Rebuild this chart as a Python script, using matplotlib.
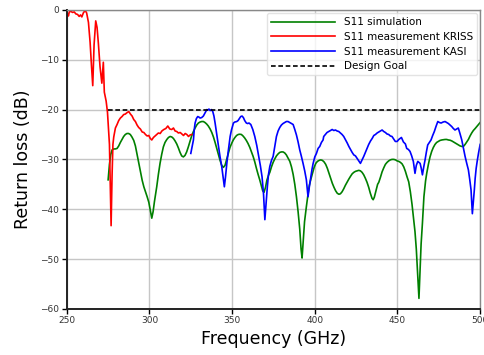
import matplotlib
matplotlib.use("Agg")
import matplotlib.pyplot as plt

kriss_f = [250.0, 250.5, 251.0, 251.5, 252.5, 253.5, 254.5, 255.5, 256.5, 257.5, 258.3, 259.1,
           260.0, 261.1, 262.0, 263.1, 264.1, 264.9, 265.7, 266.5, 267.5, 268.3, 269.1, 270.1,
           271.2, 272.1, 272.7, 273.8, 274.6, 275.8, 276.8, 277.4, 277.9, 278.4, 279.4, 280.4,
           281.4, 282.4, 283.4, 284.4, 285.4, 286.5, 287.5, 288.5, 289.5, 290.5, 291.5, 292.5,
           293.5, 294.5, 295.6, 296.6, 297.6, 298.6, 299.6, 300.5, 301.4, 302.4, 303.4, 304.4,
           305.4, 306.5, 307.5, 308.7, 309.9, 311.1, 312.3, 313.5, 314.5, 315.5, 316.5, 317.5,
           318.6, 319.6, 320.6, 321.6, 322.6, 323.6, 324.6, 325.6]
kriss_db = [-1.8, -0.8, -1.2, -0.4, -0.3, -0.5, -0.4, -0.8, -0.9, -1.3, -1.0, -1.4,
            -0.6, -0.1, -0.6, -2.5, -6.5, -11.0, -15.2, -7.0, -2.2, -3.5, -6.7, -11.4,
            -14.7, -10.5, -16.5, -18.3, -20.5, -27.0, -43.3, -33.0, -27.0, -25.5, -23.7, -23.0,
            -22.2, -21.7, -21.4, -21.0, -20.9, -20.6, -20.4, -20.9, -21.3, -22.0, -22.4, -23.1,
            -23.6, -23.9, -24.5, -24.6, -25.0, -25.3, -25.2, -25.8, -26.1, -25.6, -25.3, -25.0,
            -24.7, -24.8, -24.3, -24.0, -23.8, -23.3, -23.9, -24.0, -23.7, -24.3, -24.4, -24.7,
            -24.6, -24.9, -25.2, -24.8, -25.0, -25.4, -25.1, -25.0]

# S11 simulation
sim_f = [275.0, 275.8, 276.6, 277.4, 278.4, 279.4, 280.4, 281.4, 282.4, 283.4, 284.4, 285.4,
         286.4, 287.4, 288.4, 289.4, 290.5, 291.5, 292.5, 293.5, 294.5, 295.6, 296.6, 297.6,
         298.6, 299.6, 300.5, 301.4, 302.2, 303.0, 304.4, 305.4, 306.4, 307.4, 308.4, 309.4,
         310.5, 311.5, 312.5, 313.5, 314.5, 315.5, 316.5, 317.5, 318.5, 319.5, 320.5, 321.5,
         322.5, 323.5, 324.5, 325.5, 326.6, 327.6, 328.6, 329.6, 330.6, 331.6, 332.6, 333.6,
         334.6, 335.6, 336.7, 337.7, 338.7, 339.7, 340.7, 341.7, 342.7, 343.7, 344.7, 345.7,
         346.7, 347.7, 348.7, 349.7, 350.7, 351.7, 352.7, 353.7, 354.6, 355.6, 356.6, 357.6,
         358.6, 359.6, 360.7, 361.7, 362.7, 363.7, 364.7, 365.7, 366.7, 367.7, 368.5, 369.3,
         370.2, 371.0, 372.0, 372.8, 373.8, 374.8, 375.8, 376.8, 377.8, 378.8, 379.8, 380.8,
         381.8, 382.8, 383.8, 384.9, 385.9, 386.9, 387.9, 388.9, 389.9, 390.9, 391.7, 392.3,
         393.0, 393.8, 394.9, 395.9, 396.7, 397.6, 398.6, 399.6, 400.6, 401.6, 402.6, 403.6,
         404.6, 405.6, 406.6, 407.6, 408.6, 409.6, 410.6, 411.6, 412.6, 413.6, 414.6, 415.5,
         416.5, 417.5, 418.5, 419.5, 420.5, 421.6, 422.6, 423.6, 424.6, 425.6, 426.6, 427.6,
         428.6, 429.6, 430.6, 431.6, 432.6, 433.6, 434.6, 435.3, 436.0, 437.0, 438.0, 438.7,
         439.7, 440.7, 441.7, 442.7, 443.7, 444.7, 445.7, 446.7, 447.8, 448.8, 449.8, 450.8,
         451.8, 452.8, 453.8, 454.8, 455.8, 456.8, 457.8, 458.8, 459.8, 460.6, 461.4, 462.2,
         463.0, 463.6, 464.3, 465.1, 466.0, 467.0, 467.7, 468.7, 469.7, 470.7, 471.7, 472.7,
         473.7, 474.7, 475.7, 476.8, 477.8, 478.8, 479.8, 480.8, 481.8, 482.9, 483.9, 484.9,
         485.9, 486.9, 487.9, 488.9, 489.9, 490.9, 491.9, 492.9, 493.9, 494.9, 495.9, 497.0,
         498.0, 499.0, 500.0]
sim_db = [-34.1, -31.0, -29.0, -28.1, -27.9, -27.9, -27.8, -27.3, -26.6, -26.0, -25.4, -25.0,
          -24.8, -24.8, -25.0, -25.5, -26.2, -27.3, -29.0, -30.8, -32.5, -34.2, -35.5, -36.5,
          -37.5, -38.6, -40.2, -41.8, -40.5, -38.5, -35.5, -33.0, -30.8, -29.0, -27.5, -26.6,
          -26.0, -25.6, -25.4, -25.5, -25.8, -26.3, -26.9, -27.7, -28.6, -29.3, -29.5, -29.2,
          -28.5, -27.5, -26.4, -25.3, -24.4, -23.7, -23.1, -22.7, -22.5, -22.4, -22.4, -22.6,
          -22.9, -23.3, -23.9, -24.6, -25.5, -26.6, -27.8, -29.0, -30.2, -31.2, -31.6, -31.2,
          -30.0, -28.8, -27.6, -26.8, -26.1, -25.6, -25.2, -25.0, -24.95, -25.0, -25.3, -25.7,
          -26.2, -26.8, -27.6, -28.5, -29.4, -30.5, -31.8, -33.0, -34.1, -35.3, -36.3, -36.6,
          -35.6, -34.2, -33.2, -32.6, -31.5, -30.6, -29.9, -29.3, -28.9, -28.6, -28.5, -28.5,
          -28.7, -29.1, -29.7, -30.4, -31.5, -33.0, -35.0, -37.5, -40.5, -44.0, -48.0, -49.8,
          -46.5, -42.5, -39.5, -37.0, -35.2, -34.0, -32.8, -31.6, -30.8, -30.4, -30.2, -30.1,
          -30.2, -30.5, -31.0, -31.8, -32.8, -33.8, -34.8, -35.6, -36.3, -36.8, -37.0, -36.9,
          -36.5, -35.9, -35.2, -34.6, -34.0, -33.4, -32.9, -32.6, -32.4, -32.3, -32.2, -32.3,
          -32.6, -33.1, -33.8, -34.6, -35.6, -36.8, -37.8, -38.1, -37.6, -36.3, -35.0, -34.6,
          -33.6, -32.5, -31.7, -31.0, -30.6, -30.3, -30.1, -30.0, -30.0, -30.1, -30.3, -30.4,
          -30.6, -30.9, -31.5, -32.4, -33.5, -34.5, -36.5, -39.0, -42.0, -44.5, -48.0, -53.0,
          -57.9, -53.0, -47.0, -42.8, -37.5, -34.3, -32.8, -31.0, -29.5, -28.4, -27.6, -27.0,
          -26.6, -26.4, -26.2, -26.1, -26.05, -26.0, -26.0, -26.1, -26.15, -26.3, -26.5, -26.7,
          -26.9, -27.1, -27.3, -27.4, -27.4, -27.0, -26.5, -26.0, -25.3, -24.7, -24.2, -23.8,
          -23.4, -23.0, -22.6]

# S11 measurement KASI
kasi_f = [325.0, 325.8, 326.6, 327.1, 327.6, 328.4, 329.2, 329.9, 330.6, 331.6, 332.6, 333.4,
          334.1, 334.7, 335.3, 336.0, 336.7, 337.5, 338.3, 339.0, 339.7, 340.7, 341.7, 342.7,
          343.7, 344.5, 345.3, 346.0, 346.8, 347.6, 348.8, 349.6, 350.8, 351.6, 352.8, 353.6,
          354.4, 355.2, 356.0, 356.8, 357.6, 358.6, 359.4, 360.2, 361.3, 362.5, 363.7, 364.9,
          366.1, 367.1, 368.1, 369.0, 369.8, 370.6, 371.3, 372.0, 372.8, 373.8, 374.8, 375.8,
          376.8, 377.8, 378.8, 379.8, 380.8, 381.8, 382.8, 383.8, 384.9, 385.9, 386.9, 387.9,
          388.9, 389.9, 390.9, 391.9, 392.9, 393.9, 394.9, 395.9, 396.7, 397.6, 398.3, 399.0,
          400.0, 401.0, 402.0, 403.0, 404.0, 405.0, 405.4, 406.4, 407.4, 408.5, 409.5, 410.5,
          411.5, 412.5, 413.5, 414.5, 415.5, 416.5, 417.5, 418.5, 419.6, 420.6, 421.6, 422.6,
          423.6, 424.6, 425.6, 426.6, 427.6, 428.6, 429.6, 430.6, 431.6, 432.6, 433.7, 434.7,
          435.7, 436.7, 437.7, 438.7, 439.7, 440.7, 441.7, 442.7, 443.7, 444.7, 445.7, 446.7,
          447.7, 448.7, 449.8, 450.8, 451.6, 452.4, 453.6, 454.8, 455.6, 456.6, 457.6, 458.6,
          459.6, 460.6, 461.4, 462.3, 463.0, 463.7, 464.4, 465.1, 465.9, 466.7, 467.5, 468.3,
          469.3, 470.3, 471.3, 472.3, 473.3, 474.4, 475.4, 476.4, 477.6, 478.8, 479.8, 480.8,
          481.8, 482.8, 483.8, 484.8, 485.8, 486.8, 487.8, 488.9, 489.9, 490.9, 491.9, 492.9,
          493.7, 494.5, 495.3, 495.9, 496.5, 497.0, 497.6, 498.3, 499.0, 500.0]
kasi_db = [-28.8, -27.5, -26.1, -24.0, -22.7, -21.8, -21.4, -21.5, -21.7, -21.6, -21.3, -20.8,
           -20.4, -20.0, -20.1, -19.9, -20.2, -20.0, -20.4, -21.3, -22.7, -25.0, -27.4, -29.5,
           -31.4, -33.5, -35.5, -33.5, -30.8, -28.5, -25.4, -24.1, -22.7, -22.5, -22.4, -22.2,
           -21.8, -21.4, -21.3, -21.6, -22.2, -22.7, -22.8, -22.7, -23.0, -24.0, -25.4, -27.2,
           -29.4, -31.3, -33.5, -37.0, -42.1, -38.5, -35.5, -33.0, -31.4, -30.2, -29.4, -27.4,
           -25.4, -24.3, -23.6, -23.1, -22.8, -22.6, -22.4, -22.4, -22.6, -22.8, -23.0, -24.0,
           -25.1, -26.5, -28.1, -29.4, -30.8, -32.3, -34.1, -37.5, -35.5, -33.5, -32.0, -30.8,
           -29.5, -28.8, -27.8, -27.4, -26.6, -26.1, -25.4, -25.0, -24.6, -24.4, -24.2, -24.0,
           -24.2, -24.1, -24.3, -24.4, -24.7, -25.0, -25.4, -26.0, -26.7, -27.4, -28.0, -28.6,
           -29.1, -29.3, -29.8, -30.3, -30.8, -30.1, -29.4, -28.6, -27.8, -27.0, -26.3, -25.8,
           -25.2, -25.0, -24.7, -24.5, -24.3, -24.1, -24.4, -24.6, -24.9, -25.0, -25.3, -25.4,
           -25.9, -26.4, -26.4, -26.0, -25.8, -25.6, -26.5, -26.9, -27.8, -28.0, -28.4, -29.3,
           -30.4, -32.8, -31.2, -30.4, -30.6, -30.8, -31.8, -33.1, -31.5, -30.1, -28.5, -27.1,
           -26.6, -26.1, -25.2, -24.4, -23.4, -22.4, -22.6, -22.7, -22.5, -22.4, -22.6, -22.8,
           -23.1, -23.4, -23.8, -24.1, -23.9, -23.7, -24.8, -26.1, -27.8, -29.4, -30.8, -32.1,
           -34.0, -36.1, -40.9, -38.5, -36.1, -33.8, -31.8, -30.2, -28.8, -27.0]

goal_f = [275.0, 500.0]
goal_db = [-20.0, -20.0]

x_ticks = [250, 300, 350, 400, 450, 500]
y_ticks = [0, -10, -20, -30, -40, -50, -60]

fig = plt.figure(figsize=(4.84, 3.55), dpi=100)
ax = fig.add_axes([0.138, 0.130, 0.854, 0.842])

ax.plot(sim_f, sim_db, color="green", lw=1.2, label="S11 simulation")
ax.plot(kriss_f, kriss_db, color="red", lw=1.2, label="S11 measurement KRISS")
ax.plot(kasi_f, kasi_db, color="blue", lw=1.2, label="S11 measurement KASI")
ax.plot(goal_f, goal_db, color="black", lw=1.2, ls="--", dashes=(2.8, 1.6), label="Design Goal")

ax.set_xlim(250, 500)
ax.set_ylim(-60, 0)
ax.set_xticks(x_ticks)
ax.set_yticks(y_ticks)
ax.set_yticklabels([f"{v}".replace("-", "\u2212") for v in y_ticks])
ax.grid(True, color="#c6c6c6", lw=1.0)
ax.set_axisbelow(True)

for side in ("left", "bottom"):
    ax.spines[side].set_color("#222222")
    ax.spines[side].set_linewidth(1.4)
for side in ("top", "right"):
    ax.spines[side].set_color("#888888")
    ax.spines[side].set_linewidth(1.0)

ax.tick_params(labelsize=6.5, labelcolor="#333333", length=3.5, width=1.0, pad=2)
ax.set_xlabel("Frequency (GHz)", fontsize=12.5, labelpad=3)
ax.set_ylabel("Return loss (dB)", fontsize=12.5, labelpad=6)

leg = ax.legend(loc="upper right", fontsize=7.5, handlelength=6.2, borderaxespad=0.3,
                labelspacing=0.45, framealpha=0.8)
leg.get_frame().set_edgecolor("#dddddd")

fig.savefig("out.png", dpi=100)
